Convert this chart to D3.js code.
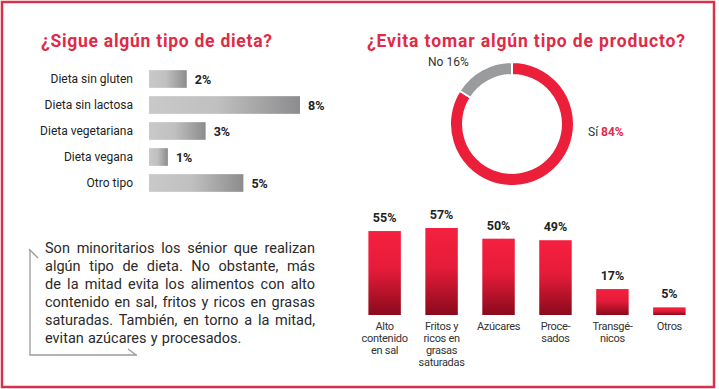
<!DOCTYPE html>
<html>
<head>
<meta charset="utf-8">
<script src="https://cdn.jsdelivr.net/npm/d3@7"></script>
<style>
  body { margin: 0; background: #fff; }
  svg { display: block; font-family: Roboto, "DejaVu Sans", sans-serif; }
</style>
</head>
<body>
<div id="chart"></div>
<script>
// Data
var dietas = ["Dieta sin gluten", "Dieta sin lactosa", "Dieta vegetariana", "Dieta vegana", "Otro tipo"];
var dietaValores = [2, 8, 3, 1, 5];

var evitaLabels = ["Sí", "No"];
var evitaValores = [84, 16];

var productos = [["Alto", "contenido", "en sal"], ["Fritos y", "ricos en", "grasas", "saturadas"], ["Azúcares"], ["Proce-", "sados"], ["Transgé-", "nicos"], ["Otros"]];
var productoValores = [55, 57, 50, 49, 17, 5];

var textoLineas = [
  "Son minoritarios los sénior que realizan",
  "algún tipo de dieta. No obstante, más",
  "de la mitad evita los alimentos con alto",
  "contenido en sal, fritos y ricos en grasas",
  "saturadas. También, en torno a la mitad,",
  "evitan azúcares y procesados."
];

var svgWidth = 719;
var svgHeight = 389;
var red = "#e12a46";

var svg = d3.select("#chart")
  .append("svg")
  .attr("width", svgWidth)
  .attr("height", svgHeight);

var defs = svg.append("defs");
var grayGrad = defs.append("linearGradient").attr("id", "grayGrad")
  .attr("x1", "0%").attr("x2", "100%").attr("y1", "0%").attr("y2", "0%");
grayGrad.append("stop").attr("offset", "0%").attr("stop-color", "#c9c9c9");
grayGrad.append("stop").attr("offset", "45%").attr("stop-color", "#c0c0c0");
grayGrad.append("stop").attr("offset", "100%").attr("stop-color", "#8c8c8e");

var redGrad = defs.append("linearGradient").attr("id", "redGrad")
  .attr("x1", "0%").attr("x2", "0%").attr("y1", "0%").attr("y2", "100%");
redGrad.append("stop").attr("offset", "0%").attr("stop-color", "#f5203f");
redGrad.append("stop").attr("offset", "45%").attr("stop-color", "#e51c39");
redGrad.append("stop").attr("offset", "100%").attr("stop-color", "#8a0a1c");

// Frame
svg.append("rect")
  .attr("x", 2).attr("y", 2)
  .attr("width", 712).attr("height", 385)
  .attr("fill", "none")
  .attr("stroke", "#d8324b")
  .attr("stroke-width", 2.5);

// Titles
svg.append("text")
  .attr("x", 41).attr("y", 47)
  .attr("fill", red)
  .style("font-size", "17.5px")
  .style("font-weight", "bold")
  .attr("textLength", 231)
  .text("¿Sigue algún tipo de dieta?");

svg.append("text")
  .attr("x", 367).attr("y", 47)
  .attr("fill", red)
  .style("font-size", "17.5px")
  .style("font-weight", "bold")
  .attr("textLength", 318)
  .text("¿Evita tomar algún tipo de producto?");

// Horizontal bars (dietas)
var xDieta = d3.scaleLinear().domain([0, 8]).range([0, 151]);
var yDieta = d3.scaleBand().domain(dietas).range([66, 196]).paddingInner(0.32).paddingOuter(0.16);

var hGroup = svg.append("g").attr("transform", "translate(149, 0)");

hGroup.selectAll("rect")
  .data(dietas)
  .enter()
  .append("rect")
  .attr("x", 0)
  .attr("y", d => yDieta(d))
  .attr("width", (d, i) => xDieta(dietaValores[i]))
  .attr("height", yDieta.bandwidth())
  .attr("fill", "url(#grayGrad)");

hGroup.selectAll(".cat")
  .data(dietas)
  .enter()
  .append("text")
  .attr("class", "cat")
  .attr("x", -16)
  .attr("y", d => yDieta(d) + yDieta.bandwidth() / 2 + 4)
  .attr("text-anchor", "end")
  .attr("fill", "#222")
  .style("font-size", "12px")
  .text(d => d);

hGroup.selectAll(".val")
  .data(dietas)
  .enter()
  .append("text")
  .attr("class", "val")
  .attr("x", (d, i) => xDieta(dietaValores[i]) + 8)
  .attr("y", d => yDieta(d) + yDieta.bandwidth() / 2 + 4.5)
  .attr("fill", "#222")
  .style("font-size", "12.5px")
  .style("font-weight", "bold")
  .text((d, i) => dietaValores[i] + "%");

// Donut
var pie = d3.pie().sort(null).value(d => d);
var arc = d3.arc().innerRadius(49).outerRadius(62);
var donut = svg.append("g").attr("transform", "translate(512, 124)");

donut.selectAll("path")
  .data(pie(evitaValores))
  .enter()
  .append("path")
  .attr("d", arc)
  .attr("fill", (d, i) => i === 0 ? "#ec1f3b" : "#9a9b9d")
  .attr("stroke", "#fff")
  .attr("stroke-width", 2);

var siLabel = svg.append("text")
  .attr("x", 588).attr("y", 136)
  .attr("fill", "#333")
  .style("font-size", "12px");
siLabel.append("tspan").text(evitaLabels[0] + " ");
siLabel.append("tspan").attr("fill", red).style("font-weight", "bold").text(evitaValores[0] + "%");

var noLabel = svg.append("text")
  .attr("x", 428).attr("y", 66)
  .attr("fill", "#333")
  .style("font-size", "12px");
noLabel.append("tspan").text(evitaLabels[1] + " ");
noLabel.append("tspan").text(evitaValores[1] + "%");

// Vertical bars (productos)
var xProd = d3.scaleBand().domain(d3.range(productos.length)).range([357, 697]).paddingInner(0.43).paddingOuter(0.2);
var yProd = d3.scaleLinear().domain([0, 57]).range([315, 228]);

var vGroup = svg.append("g");

vGroup.selectAll("rect")
  .data(productoValores)
  .enter()
  .append("rect")
  .attr("x", (d, i) => xProd(i))
  .attr("y", d => yProd(d))
  .attr("width", xProd.bandwidth())
  .attr("height", d => 315 - yProd(d))
  .attr("fill", "url(#redGrad)");

vGroup.selectAll(".val")
  .data(productoValores)
  .enter()
  .append("text")
  .attr("class", "val")
  .attr("x", (d, i) => xProd(i) + xProd.bandwidth() / 2)
  .attr("y", d => yProd(d) - 9)
  .attr("text-anchor", "middle")
  .attr("fill", "#222")
  .style("font-size", "12.5px")
  .style("font-weight", "bold")
  .text(d => d + "%");

vGroup.selectAll(".cat")
  .data(productos)
  .enter()
  .append("text")
  .attr("class", "cat")
  .attr("text-anchor", "middle")
  .attr("fill", "#333")
  .style("font-size", "11px")
  .style("letter-spacing", "-0.3px")
  .each(function(lines, i) {
    var t = d3.select(this);
    lines.forEach(function(line, j) {
      t.append("tspan")
        .attr("x", xProd(i) + xProd.bandwidth() / 2)
        .attr("y", 330 + j * 12)
        .text(line);
    });
  });

// Text box
var box = svg.append("g").attr("stroke", "#9a9a9a").attr("fill", "none").attr("stroke-width", 1.3);
box.append("path").attr("d", "M29,249 L38,258");
box.append("path").attr("d", "M30,250 L30,355 L137,355");
box.append("path").attr("d", "M128,349 L136,355");

var textLeft = 45, textRight = 315;
textoLineas.forEach(function(line, i) {
  var y = 253 + i * 18;
  var words = line.split(" ");
  var g = svg.append("g");
  var nodes = words.map(function(w) {
    return g.append("text")
      .attr("y", y)
      .attr("fill", "#2a2a2a")
      .style("font-size", "14.5px")
      .text(w);
  });
  var widths = nodes.map(n => n.node().getComputedTextLength());
  var total = d3.sum(widths);
  var last = i === textoLineas.length - 1;
  var gap = last ? 4.2 : (textRight - textLeft - total) / (words.length - 1);
  var x = textLeft;
  nodes.forEach(function(n, k) {
    n.attr("x", x);
    x += widths[k] + gap;
  });
});
</script>
</body>
</html>
